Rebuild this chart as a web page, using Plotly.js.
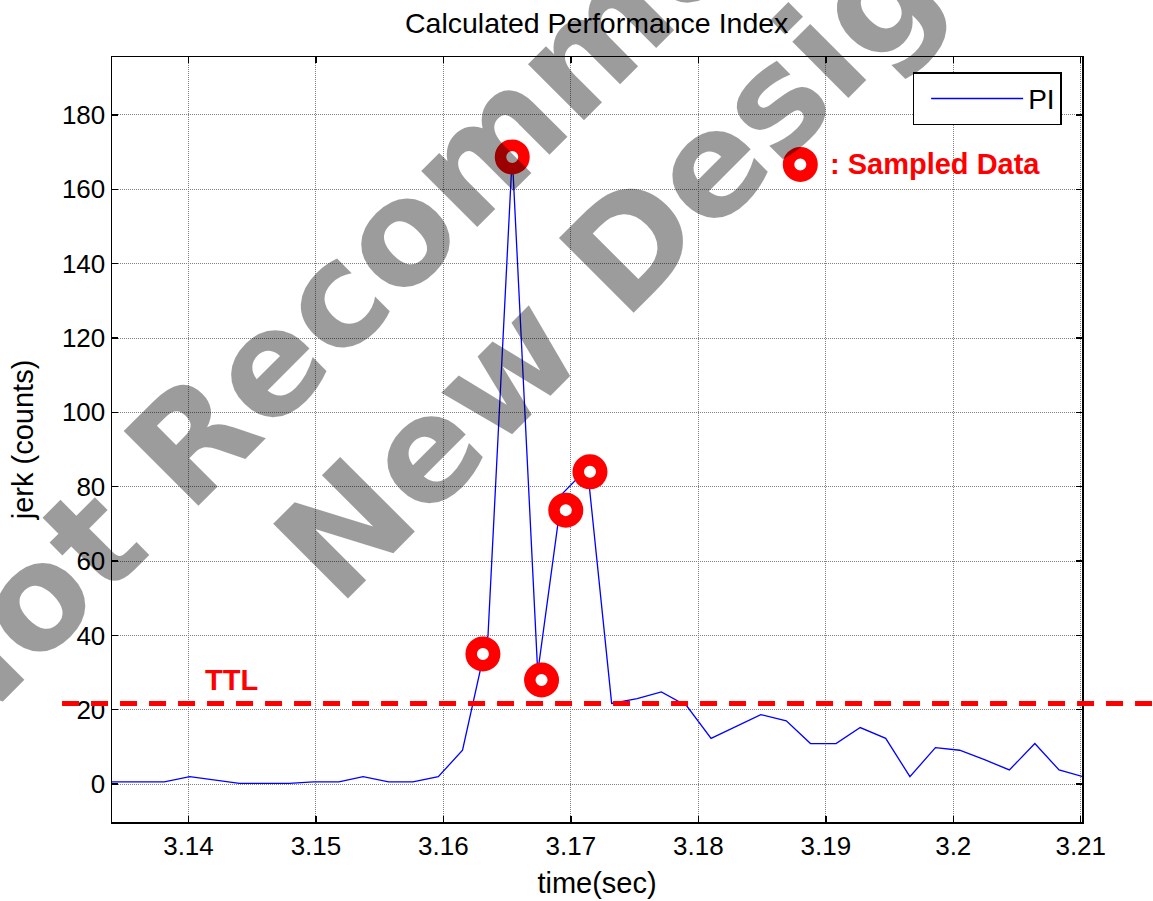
<!DOCTYPE html>
<html>
<head>
<meta charset="utf-8">
<script src="https://cdn.plot.ly/plotly-3.0.1.min.js"></script>
<style>html,body{margin:0;padding:0;background:#fff;}#chart{width:1153px;height:901px;}</style>
</head>
<body>
<div id="chart"></div>
<script>
// ---- data ----
const timeSec = [3.1323,3.1342,3.1362,3.1381,3.1401,3.1420,3.1440,3.1459,3.1479,3.1498,3.1518,3.1537,3.1557,3.1576,3.1596,3.1615,3.1635,3.1654,3.1674,3.1693,3.1713,3.1732,3.1752,3.1771,3.1791,3.1810,3.1830,3.1849,3.1869,3.1888,3.1908,3.1927,3.1947,3.1966,3.1986,3.2005,3.2025,3.2044,3.2064,3.2083,3.2103];
const piValues = [0.6,0.6,0.6,0.6,2.0,1.1,0.2,0.2,0.2,0.6,0.6,2.0,0.6,0.6,2.0,9.1,40,169,30,78,85,21.7,23,24.8,21,12.3,15.5,18.7,17,10.9,10.9,15.2,12.3,2.0,9.8,9.1,6.5,3.8,10.9,3.8,1.9];
const sampledTime = [3.1631,3.1654,3.1677,3.1696,3.1715];
const sampledValues = [35.0,168.7,28.0,73.7,84.0];
const keyTime = [3.1880];
const keyValue = [166.7];
const ttlLevel = 21.7;
const xTickVals = [3.14,3.15,3.16,3.17,3.18,3.19,3.20,3.21];
const xTickText = ["3.14","3.15","3.16","3.17","3.18","3.19","3.2","3.21"];
const yTickVals = [0,20,40,60,80,100,120,140,160,180];
const yTickText = ["0","20","40","60","80","100","120","140","160","180"];
const watermarkLines = ["Not Recommended for","New Designs"];

const FONT = "Liberation Sans, Arial, Helvetica, sans-serif";

const traces = [
  {
    x: timeSec, y: piValues, type: "scatter", mode: "lines", name: "PI",
    line: {color: "#0000ff", width: 1.3}
  },
  {
    x: sampledTime, y: sampledValues, type: "scatter", mode: "markers", showlegend: false,
    marker: {symbol: "circle", size: 23.5, color: "#ffffff", line: {color: "#ff0000", width: 11.5}}
  },
  {
    x: keyTime, y: keyValue, type: "scatter", mode: "markers", showlegend: false,
    marker: {symbol: "circle", size: 23.5, color: "#ffffff", line: {color: "#ff0000", width: 11.5}}
  }
];

const axisCommon = {
  showline: true, linecolor: "#000", linewidth: 1.5, mirror: "ticks",
  ticks: "inside", ticklen: 6, tickwidth: 1.5, tickcolor: "#000",
  showgrid: true, gridcolor: "#808080", griddash: "1px,1px", gridwidth: 1,
  zeroline: false, tickmode: "array",
  tickfont: {family: FONT, size: 26, color: "#000"}
};

const layout = {
  width: 1153, height: 901,
  paper_bgcolor: "#fff", plot_bgcolor: "#fff",
  margin: {l: 112, r: 71, t: 57, b: 79},
  font: {family: FONT, color: "#000"},
  title: {text: "Calculated Performance Index", font: {family: FONT, size: 28.5, color: "#000"},
          x: 0.5175, xanchor: "center", y: 0.975, yanchor: "middle"},
  xaxis: Object.assign({}, axisCommon, {
    range: [3.134, 3.2101], tickvals: xTickVals, ticktext: xTickText,
    title: {text: "time(sec)", font: {family: FONT, size: 29, color: "#000"}, standoff: 13}
  }),
  yaxis: Object.assign({}, axisCommon, {
    range: [-10.2, 195.6], tickvals: yTickVals, ticktext: yTickText,
    title: {text: "jerk (counts)", font: {family: FONT, size: 29, color: "#000"}, standoff: 20}
  }),
  showlegend: true,
  legend: {
    x: 0.979, xanchor: "right", y: 0.98, yanchor: "top",
    bgcolor: "#fff", bordercolor: "#000", borderwidth: 1.5, indentation: 12,
    font: {family: FONT, size: 28, color: "#000"}, itemwidth: 92
  },
  shapes: [
    {type: "line", xref: "paper", yref: "y", x0: -0.0515, x1: 1.075, y0: ttlLevel, y1: ttlLevel,
     line: {color: "#ff0000", width: 5, dash: "17px,12px"}, layer: "above"}
  ],
  annotations: [
    {xref: "x", yref: "y", x: 3.14339, y: 28, text: "TTL", showarrow: false,
     xanchor: "center", yanchor: "middle",
     font: {family: FONT, size: 29, color: "#ff0000", weight: "bold"}},
    {xref: "x", yref: "y", x: 3.1902, y: 166.8, text: ": Sampled Data", showarrow: false,
     xanchor: "left", yanchor: "middle",
     font: {family: FONT, size: 29, color: "#ff0000", weight: "bold"}},
    {xref: "paper", yref: "paper", x: 0.461, y: 0.979, text: watermarkLines[0], showarrow: false,
     xanchor: "center", yanchor: "middle", textangle: -45,
     font: {family: "DejaVu Sans", size: 145, color: "rgba(0,0,0,0.39)", weight: "bold"}},
    {xref: "paper", yref: "paper", x: 0.580, y: 0.812, text: watermarkLines[1], showarrow: false,
     xanchor: "center", yanchor: "middle", textangle: -45,
     font: {family: "DejaVu Sans", size: 145, color: "rgba(0,0,0,0.39)", weight: "bold"}}
  ]
};

Plotly.newPlot("chart", traces, layout, {displayModeBar: false, staticPlot: true});
</script>
</body>
</html>
